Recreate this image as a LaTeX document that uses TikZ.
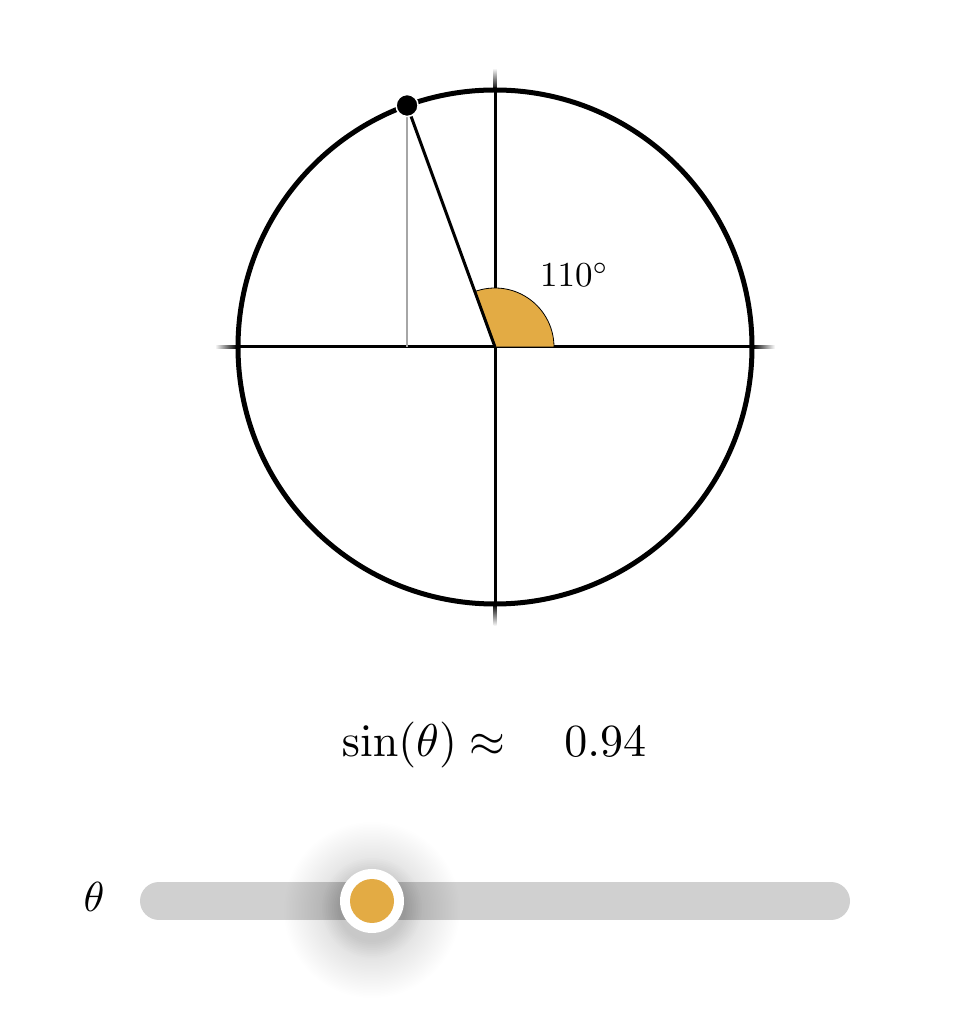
\documentclass[tikz,border=0pt]{standalone}
\usepackage{graphicx}
\usetikzlibrary{calc}
\definecolor{gold}{HTML}{E3AB44}
\definecolor{track}{HTML}{D0D0D0}
\begin{document}
\begin{tikzpicture}[x=1pt,y=1pt,
  axisline/.style={black},
  rim/.style={line width=5pt},
  radiusline/.style={line width=3pt},
  projline/.style={gray!70, line width=1.5pt},
  wedge/.style={fill=gold, draw=black, line width=0.8pt},
  pointdot/.style={fill=black, draw=white, line width=1.5pt},
  label/.style={inner sep=0pt}]
\useasboundingbox (0,0) rectangle (970,1026);
\coordinate (O) at (495,679);
\coordinate (P) at ($(O)+(110:257)$);
% horizontal axis
\fill[axisline] (237,677.5) rectangle (752,680.5);
\shade[left color=white,right color=black] (215,677.5) rectangle (237,680.5);
\shade[left color=black,right color=white] (752,677.5) rectangle (775,680.5);
% vertical axis
\fill[axisline] (493.5,422) rectangle (496.5,936);
\shade[top color=white,bottom color=black] (493.5,936) rectangle (496.5,958);
\shade[top color=black,bottom color=white] (493.5,400) rectangle (496.5,422);
% angle wedge
\filldraw[wedge] (O) -- ++(59,0) arc (0:110:59) -- cycle;
% projection and radius
\draw[projline] (P) -- (P |- O);
\draw[radiusline] (O) -- (P);
% circle
\draw[rim] (O) circle (257);
\filldraw[pointdot] (P) circle (11);
% labels
\node[label, anchor=base west] (ang) at (540,739) {\scalebox{3.5}{$110^\circ$}};
\node[label, anchor=base] (sinv) at (494,269) {\scalebox{4.6}{$\sin(\theta)\approx\quad 0.94$}};
% slider
\node[label, anchor=base] (th) at (94,114) {\scalebox{4.2}{$\theta$}};
\draw[track, line width=38pt, line cap=round] (159,125) -- (831,125);
\foreach \r in {88,86.5,...,33} \fill[black, opacity=0.0028] (372,116) circle (\r);
\foreach \r in {50,48,...,33} \fill[black, opacity=0.008] (372,118) circle (\r);
\fill[white] (372,125) circle (32);
\fill[gold] (372,125) circle (22);
\end{tikzpicture}
\end{document}
